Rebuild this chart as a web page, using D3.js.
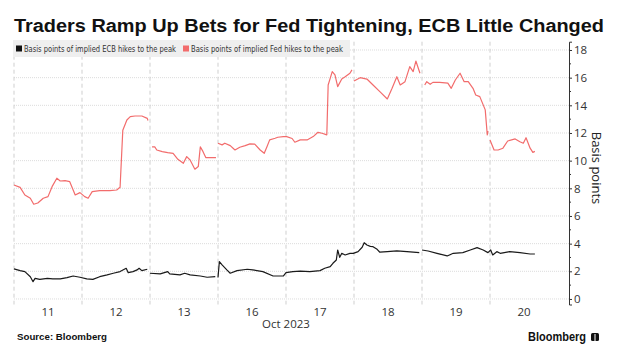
<!DOCTYPE html>
<html>
<head>
<meta charset="utf-8">
<script src="https://cdn.jsdelivr.net/npm/d3@7"></script>
<style>
  body { margin: 0; background: #fff; }
  svg { font-family: "Liberation Sans", Arial, sans-serif; }
  .tick text { fill: #333; }
</style>
</head>
<body>
<svg width="619" height="352"></svg>
<script>
// **** data ****
var days = ["11", "12", "13", "16", "17", "18", "19", "20"];
var yTicks = [0, 2, 4, 6, 8, 10, 12, 14, 16, 18];

// time is counted in trading days from the open of Oct 11, null marks a gap
var fedTime = [0, 0.09, 0.16, 0.24, 0.29, 0.35, 0.43, 0.5, 0.56, 0.63, 0.68, 0.75, 0.82, 0.87, 0.9, 0.97,
  1.04, 1.09, 1.15, 1.26, 1.41, 1.51, 1.56, 1.6, 1.66, 1.71, 1.78, 1.88, 1.96, 1.97, null,
  2.03, 2.07, 2.1, 2.18, 2.26, 2.34, 2.41, 2.49, 2.54, 2.59, 2.66, 2.71, 2.74, 2.78, 2.82, 2.97, null,
  3.0, 3.06, 3.1, 3.18, 3.25, 3.32, 3.4, 3.47, 3.54, 3.62, 3.68, 3.72, 3.76, 3.84, 3.88, 3.96,
  4.01, 4.09, 4.13, 4.21, 4.31, 4.4, 4.47, 4.53, 4.6, 4.62, 4.68, 4.72, 4.76, 4.82, 4.87, 4.94, 4.97, null,
  5.0, 5.09, 5.19, 5.28, 5.38, 5.49, 5.56, 5.63, 5.68, 5.75, 5.82, 5.87, 5.91, 5.97, null,
  6.04, 6.07, 6.12, 6.16, 6.26, 6.38, 6.43, 6.49, 6.56, 6.62, 6.68, 6.75, 6.79, 6.85, 6.93, 6.96, 6.97, null,
  7.0, 7.06, 7.12, 7.19, 7.26, 7.37, 7.44, 7.49, 7.53, 7.59, 7.63, 7.66];
var fedBps = [8.24, 8.07, 7.52, 7.28, 6.85, 6.94, 7.28, 7.4, 8.12, 8.73, 8.53, 8.55, 8.48, 7.88, 7.52, 7.69,
  7.4, 7.28, 7.76, 7.83, 7.83, 7.88, 8.07, 12.2, 12.94, 13.18, 13.23, 13.23, 13.06, 12.9, null,
  11.0, 11.0, 10.77, 10.65, 10.58, 10.53, 10.1, 9.81, 10.29, 10.05, 9.38, 9.57, 11.0, 10.65, 10.22, 10.22, null,
  11.26, 11.14, 11.26, 11.09, 10.77, 10.97, 11.09, 11.21, 11.2, 10.77, 10.53, 11.0, 11.5, 11.62, 11.69, 11.74,
  11.74, 11.6, 11.33, 11.5, 11.5, 11.74, 12.05, 11.98, 11.86, 15.47, 16.44, 16.2, 15.35, 15.9, 16.07, 16.32, 16.56, null,
  15.76, 16.0, 15.9, 15.47, 14.99, 14.46, 15.23, 16.07, 15.47, 15.71, 16.8, 16.44, 17.2, 16.32, null,
  15.47, 15.71, 15.52, 15.66, 15.66, 15.6, 15.23, 15.83, 16.32, 15.71, 15.71, 15.23, 14.75, 14.63, 13.67, 11.86, 12.15, null,
  11.5, 10.77, 10.77, 10.9, 11.42, 11.57, 11.37, 11.26, 11.66, 10.9, 10.6, 10.67];

var ecbTime = [0, 0.09, 0.16, 0.24, 0.28, 0.31, 0.38, 0.49, 0.57, 0.68, 0.78, 0.87, 0.97,
  1.07, 1.16, 1.26, 1.37, 1.46, 1.56, 1.65, 1.68, 1.75, 1.81, 1.84, 1.88, 1.96, null,
  2.0, 2.15, 2.26, 2.29, 2.44, 2.51, 2.59, 2.74, 2.84, 2.96, null,
  3.0, 3.02, 3.06, 3.13, 3.18, 3.28, 3.43, 3.51, 3.66, 3.81, 3.96,
  4.0, 4.1, 4.21, 4.35, 4.5, 4.57, 4.65, 4.69, 4.74, 4.76, 4.79, 4.82, 4.87, 4.94, 4.99,
  5.06, 5.12, 5.15, 5.19, 5.24, 5.28, 5.34, 5.38, 5.49, 5.63, 5.78, 5.96, null,
  6.0, 6.09, 6.22, 6.37, 6.46, 6.6, 6.71, 6.81, 6.9, 6.97,
  7.01, 7.04, 7.1, 7.15, 7.29, 7.44, 7.59, 7.66];
var ecbBps = [2.17, 2.05, 1.98, 1.61, 1.25, 1.49, 1.42, 1.49, 1.45, 1.45, 1.54, 1.66, 1.57,
  1.45, 1.42, 1.61, 1.74, 1.86, 1.98, 2.22, 1.9, 1.98, 2.1, 2.22, 2.05, 2.15, null,
  1.86, 1.81, 1.98, 1.81, 1.74, 1.86, 1.74, 1.66, 1.57, 1.61, null,
  1.55, 2.7, 2.46, 2.1, 1.86, 2.05, 2.15, 2.1, 1.98, 1.66, 1.66,
  1.9, 1.98, 2.02, 1.98, 2.05, 2.22, 2.34, 2.58, 2.82, 3.54, 3.01, 3.3, 3.18, 3.3, 3.3,
  3.42, 3.74, 4.07, 3.9, 3.8, 3.78, 3.59, 3.38, 3.42, 3.47, 3.42, 3.35, null,
  3.54, 3.47, 3.3, 3.11, 3.3, 3.35, 3.54, 3.71, 3.54, 3.35,
  3.54, 3.18, 3.42, 3.3, 3.42, 3.35, 3.25, 3.25];

// **** scales and axes ****
var svg = d3.select('svg');

var dayScale = d3.scaleBand().domain(days).range([14, 558]);
var timeScale = d3.scaleLinear().domain([0, days.length]).range([14, 558]);
var bpsScale = d3.scaleLinear().domain([-0.4, 18.6]).range([304.5, 41.7]);

svg.append('text')
    .text('Traders Ramp Up Bets for Fed Tightening, ECB Little Changed')
    .attr('x', 14).attr('y', 32)
    .attr('textLength', 590).attr('lengthAdjust', 'spacingAndGlyphs')
    .style('font-size', '18px').style('font-weight', 'bold').style('fill', '#111');

// horizontal dotted grid
svg.append('g').selectAll('line').data(yTicks).join('line')
    .attr('x1', 14).attr('x2', 569)
    .attr('y1', d => bpsScale(d)).attr('y2', d => bpsScale(d))
    .attr('stroke', '#dcdcdc').attr('stroke-dasharray', '1,1');

// dashed day separators
svg.append('g').selectAll('line').data(days).join('line')
    .attr('x1', d => dayScale(d)).attr('x2', d => dayScale(d))
    .attr('y1', bpsScale(18.6)).attr('y2', bpsScale(-0.4))
    .attr('stroke', '#cfcfcf').attr('stroke-dasharray', '4,3');

// legend
var legend = svg.append('g').attr('transform', 'translate(13,40)');
legend.append('rect').attr('width', 337).attr('height', 17).attr('fill', '#efefef');
var legendItems = [
  { label: 'Basis points of implied ECB hikes to the peak', color: '#111', x: 3 },
  { label: 'Basis points of implied Fed hikes to the peak', color: '#f26c6c', x: 170 }
];
legendItems.forEach(function(d) {
  legend.append('rect').attr('x', d.x).attr('y', 5.5).attr('width', 6).attr('height', 6).attr('fill', d.color);
  legend.append('text').text(d.label)
      .attr('x', d.x + 8).attr('y', 12)
      .attr('textLength', 152).attr('lengthAdjust', 'spacingAndGlyphs')
      .style('font-size', '8.5px').style('fill', '#333')
      .style('font-family', '"Liberation Sans Narrow", "DejaVu Sans Condensed", sans-serif');
});

// right axis
var yAxis = svg.append('g').attr('class', 'y axis')
    .attr('transform', 'translate(569,0)')
    .call(d3.axisRight(bpsScale).tickValues(yTicks).tickSize(3).tickPadding(2));
yAxis.selectAll('text').style('font-size', '11.5px').style('font-family', '"Open Sans", sans-serif');
yAxis.select('.domain').attr('stroke', '#333');
yAxis.selectAll('.tick line').attr('stroke', '#333');
yAxis.append('g').selectAll('line').data(d3.range(1, 18, 2)).join('line')
    .attr('x1', 0).attr('x2', 2)
    .attr('y1', d => bpsScale(d)).attr('y2', d => bpsScale(d))
    .attr('stroke', '#333');

svg.append('text')
    .text('Basis points')
    .attr('transform', 'translate(592,168) rotate(90)')
    .attr('text-anchor', 'middle')
    .style('font-size', '13px').style('fill', '#222')
    .style('font-family', '"Open Sans", sans-serif');

// day labels
svg.append('g').selectAll('text').data(days).join('text')
    .text(d => d)
    .attr('x', d => dayScale(d) + dayScale.bandwidth() / 2).attr('y', 316)
    .attr('text-anchor', 'middle')
    .style('font-size', '11.5px').style('fill', '#333')
    .style('font-family', '"Open Sans", sans-serif');

svg.append('text')
    .text('Oct 2023')
    .attr('x', dayScale('17')).attr('y', 328)
    .attr('text-anchor', 'middle')
    .style('font-size', '11.5px').style('fill', '#333')
    .style('font-family', '"Open Sans", sans-serif');

// **** lines ****
function drawSeries(times, values, color) {
  var pts = times.map((t, i) => [t, values[i]]);
  svg.append('path')
      .datum(pts)
      .attr('d', d3.line()
          .defined(d => d[0] != null && d[1] != null)
          .x(d => timeScale(d[0]))
          .y(d => bpsScale(d[1])))
      .attr('fill', 'none')
      .attr('stroke', color)
      .attr('stroke-width', 1.2)
      .attr('stroke-linejoin', 'round');
}
drawSeries(fedTime, fedBps, '#f26c6c');
drawSeries(ecbTime, ecbBps, '#1a1a1a');

// footer
svg.append('text')
    .text('Source: Bloomberg')
    .attr('x', 17).attr('y', 340)
    .attr('textLength', 90).attr('lengthAdjust', 'spacingAndGlyphs')
    .style('font-size', '9.5px').style('font-weight', 'bold').style('fill', '#111');

svg.append('text')
    .text('Bloomberg')
    .attr('x', 528).attr('y', 341)
    .attr('textLength', 58).attr('lengthAdjust', 'spacingAndGlyphs')
    .style('font-size', '12.5px').style('font-weight', 'bold').style('fill', '#111');
svg.append('rect').attr('x', 591).attr('y', 333).attr('width', 8).attr('height', 8).attr('rx', 1.5).attr('fill', '#111');
svg.append('line').attr('x1', 595).attr('x2', 595).attr('y1', 334).attr('y2', 343)
    .attr('stroke', '#fff').attr('stroke-width', 1);
</script>
</body>
</html>
